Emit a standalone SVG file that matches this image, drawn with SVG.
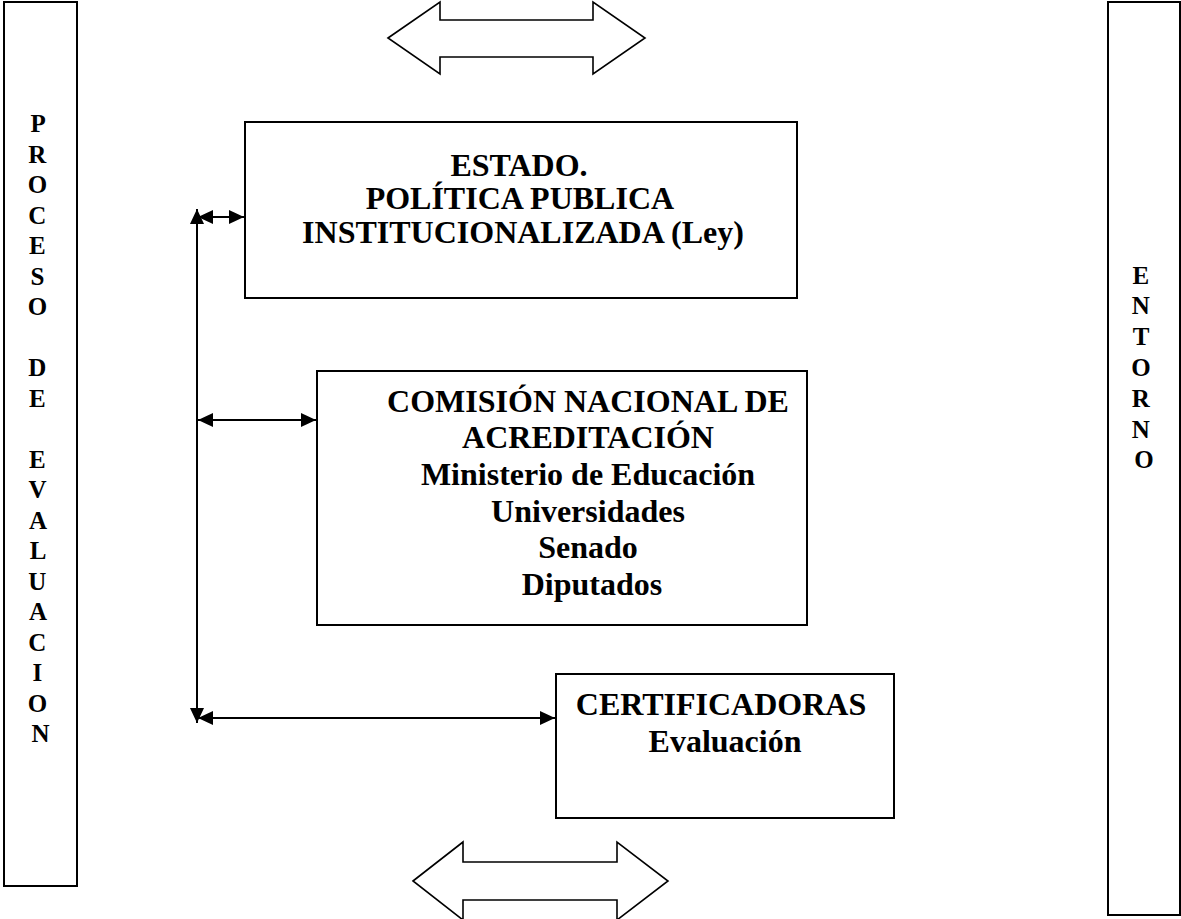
<svg xmlns="http://www.w3.org/2000/svg" width="1181" height="919" viewBox="0 0 1181 919">
<style>
.box{fill:#fff;stroke:#000;stroke-width:2}
.blk{fill:#fff;stroke:#000;stroke-width:1.6;stroke-linejoin:miter}
.t{font-family:"Liberation Serif","Times New Roman",serif;font-weight:bold;fill:#000;text-anchor:middle}
.big{font-size:32px}
.let{font-size:25px}
.con{stroke:#000;stroke-width:2;fill:none;marker-start:url(#ah);marker-end:url(#ah)}
</style>
<defs>
<marker id="ah" markerUnits="userSpaceOnUse" markerWidth="16" markerHeight="14" refX="15" refY="7" orient="auto-start-reverse">
<path d="M0,0 L15,7 L0,14 z" fill="#000"/>
</marker>
</defs>
<rect width="1181" height="919" fill="#fff"/>

<g id="proceso">
<rect class="box" x="4" y="2" width="73" height="884"/>
<text class="t let" x="40.5">
<tspan x="40.5" y="132">P</tspan>
<tspan x="40.5" y="162.5">R</tspan>
<tspan x="40.5" y="193">O</tspan>
<tspan x="40.5" y="223.5">C</tspan>
<tspan x="40.5" y="254">E</tspan>
<tspan x="40.5" y="284.5">S</tspan>
<tspan x="40.5" y="315">O</tspan>
<tspan x="40.5" y="376">D</tspan>
<tspan x="40.5" y="406.5">E</tspan>
<tspan x="40.5" y="467.5">E</tspan>
<tspan x="40.5" y="498">V</tspan>
<tspan x="40.5" y="528.5">A</tspan>
<tspan x="40.5" y="559">L</tspan>
<tspan x="40.5" y="589.5">U</tspan>
<tspan x="40.5" y="620">A</tspan>
<tspan x="40.5" y="650.5">C</tspan>
<tspan x="40.5" y="681">I</tspan>
<tspan x="40.5" y="711.5">O</tspan>
<tspan x="40.5" y="742">N</tspan>
</text>
</g>

<g id="entorno">
<rect class="box" x="1108" y="2" width="72" height="913"/>
<text class="t let">
<tspan x="1144" y="283.5">E</tspan>
<tspan x="1144" y="314.3">N</tspan>
<tspan x="1144" y="345.1">T</tspan>
<tspan x="1144" y="375.9">O</tspan>
<tspan x="1144" y="406.7">R</tspan>
<tspan x="1144" y="437.5">N</tspan>
<tspan x="1144" y="468.3">O</tspan>
</text>
</g>

<g id="flecha-superior">
<polygon class="blk" points="388,38 440,2 440,20 593,20 593,2 645,38 593,74 593,57 440,57 440,74"/>
</g>

<g id="flecha-inferior">
<polygon class="blk" points="413,881 463,842 463,862 617,862 617,842 668,881 617,920 617,900 463,900 463,920"/>
</g>

<g id="estado">
<rect class="box" x="245" y="122" width="552" height="176"/>
<text class="t big">
<tspan x="523" y="176">ESTADO.</tspan>
<tspan x="523" y="209">POLÍTICA PUBLICA</tspan>
<tspan x="523" y="243">INSTITUCIONALIZADA (Ley)</tspan>
</text>
</g>

<g id="comision">
<rect class="box" x="317" y="371" width="490" height="254"/>
<text class="t big">
<tspan x="592" y="412">COMISIÓN NACIONAL DE</tspan>
<tspan x="592" y="448">ACREDITACIÓN</tspan>
<tspan x="592" y="485">Ministerio de Educación</tspan>
<tspan x="592" y="522">Universidades</tspan>
<tspan x="592" y="558">Senado</tspan>
<tspan x="592" y="595">Diputados</tspan>
</text>
</g>

<g id="certificadoras">
<rect class="box" x="556" y="674" width="338" height="144"/>
<text class="t big">
<tspan x="725" y="715">CERTIFICADORAS</tspan>
<tspan x="725" y="752">Evaluación</tspan>
</text>
</g>

<g id="conectores">
<line class="con" x1="197" y1="209" x2="197" y2="723"/>
<line class="con" x1="198" y1="217" x2="244" y2="217"/>
<line class="con" x1="198" y1="420" x2="316" y2="420"/>
<line class="con" x1="198" y1="718" x2="555" y2="718"/>
</g>
</svg>
